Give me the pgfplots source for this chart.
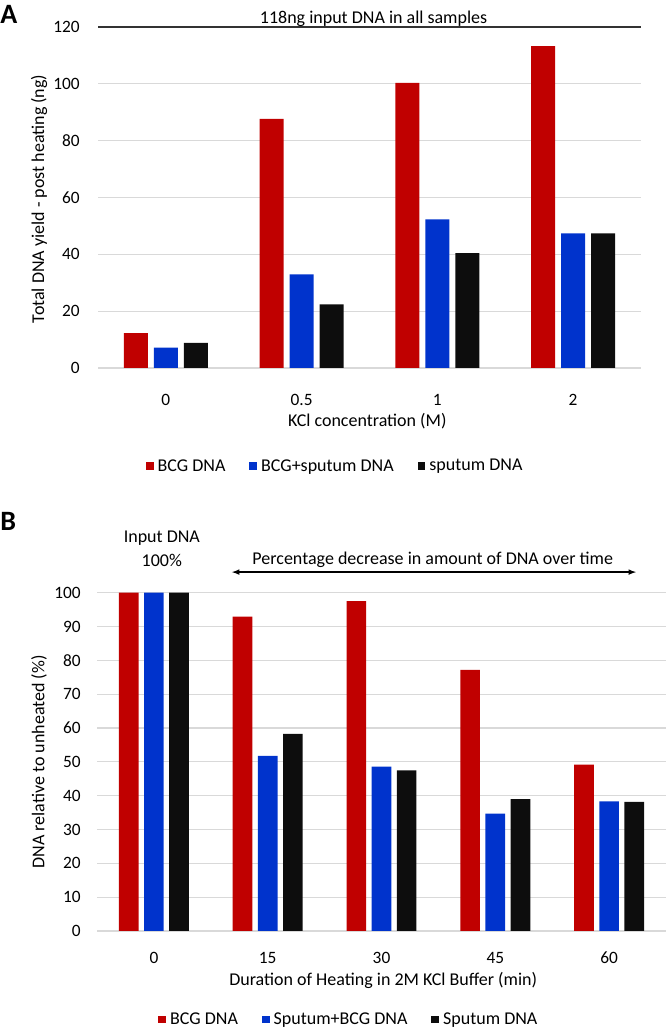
\documentclass[border=0pt]{standalone}
\usepackage{fontspec}
\setmainfont{Carlito}
\usepackage{pgfplots}
\pgfplotsset{compat=1.18}

\definecolor{bcgred}{HTML}{C00000}
\definecolor{mixblue}{HTML}{0033CC}
\definecolor{sputblack}{HTML}{0D0D0D}
\definecolor{gridgray}{HTML}{D9D9D9}

\pgfplotsset{
  panel/.style={
    scale only axis, ybar, clip=false,
    /pgf/number format/assume math mode=true,
    axis line style={draw=none}, tick style={draw=none},
    ymajorgrids, major grid style={draw=gridgray, line width=0.9pt},
    tick label style={font=\fontsize{13}{15}\selectfont},
    xticklabel style={anchor=center},
    yticklabel style={anchor=east, inner sep=0pt},
    xlabel style={anchor=center}, ylabel style={anchor=center},
    legend columns=-1,
    legend image code/.code={\fill[##1] (0pt,-2.9pt) rectangle (5.8pt,2.9pt);},
    legend style={draw=none, fill=none, anchor=center,
      nodes={inner sep=0pt},
      /tikz/every odd column/.append style={column sep=3pt},
      /tikz/every even column/.append style={column sep=18pt}},
  }
}

\begin{document}
\begin{tikzpicture}[font=\fontsize{13.5}{16}\selectfont]
\useasboundingbox (0,0) rectangle (499.5pt,775.5pt);

% panel labels
\node[anchor=north west, inner sep=0pt, font=\fontsize{21}{24}\selectfont\bfseries] at (0pt,771.75pt) {A};
\node[anchor=north west, inner sep=0pt, font=\fontsize{21}{24}\selectfont\bfseries] at (0pt,391.5pt) {B};

% ---- panel A ----
\begin{axis}[panel,
  at={(73.5pt,499.5pt)}, anchor=south west,
  width=407.25pt, height=255.75pt,
  bar width=0.177,
  xmin=-0.5, xmax=3.5, ymin=0, ymax=120,
  xtick={0,1,2,3}, xticklabels={0,0.5,1,2},
  ytick={0,20,...,120},
  xticklabel style={yshift=-19.5pt},
  yticklabel style={xshift=-13.5pt},
  xlabel={KCl concentration (M)},
  xlabel style={at={(axis description cs:0.496,-0.155)}},
  ylabel={Total DNA yield - post heating (ng)},
  ylabel style={at={(axis description cs:-0.1087,0.496)}},
  legend style={at={(0.435,-0.288)}},
]
\addplot[draw=none, fill=bcgred, bar shift=-0.221] coordinates {(0,12.3) (1,87.7) (2,100.3) (3,113.3)};
\addplot[draw=none, fill=mixblue, bar shift=0] coordinates {(0,7.2) (1,32.9) (2,52.3) (3,47.4)};
\addplot[draw=none, fill=sputblack, bar shift=0.221] coordinates {(0,8.8) (1,22.4) (2,40.4) (3,47.4)};
\legend{BCG DNA, BCG+sputum DNA, sputum DNA}
\draw[black!80, line width=0.9pt] (axis cs:-0.5,120) -- (axis cs:3.5,120);
\node[anchor=base, inner sep=0pt] at (axis cs:1.53,121.2) {118ng input DNA in all samples};
\end{axis}

% ---- panel B ----
\begin{axis}[panel,
  at={(72.75pt,77.25pt)}, anchor=south west,
  width=426.75pt, height=253.7pt,
  bar width=0.173,
  xmin=-0.5, xmax=4.5, ymin=0, ymax=100,
  xtick={0,1,2,3,4}, xticklabels={0,15,30,45,60},
  ytick={0,10,...,100},
  xticklabel style={yshift=-15.75pt},
  yticklabel style={xshift=-12pt},
  xlabel={Duration of Heating in 2M KCl Buffer (min)},
  xlabel style={at={(axis description cs:0.503,-0.145)}},
  ylabel={DNA relative to unheated (\%)},
  ylabel style={at={(axis description cs:-0.102,0.5)}},
  legend style={at={(0.441,-0.262)}},
]
\addplot[draw=none, fill=bcgred, bar shift=-0.221] coordinates {(0,100) (1,92.9) (2,97.5) (3,77.2) (4,49.2)};
\addplot[draw=none, fill=mixblue, bar shift=0] coordinates {(0,100) (1,51.8) (2,48.6) (3,34.7) (4,38.3)};
\addplot[draw=none, fill=sputblack, bar shift=0.221] coordinates {(0,100) (1,58.3) (2,47.5) (3,39.0) (4,38.2)};
\legend{BCG DNA, Sputum+BCG DNA, Sputum DNA}
\node[align=center, inner sep=0pt] at (axis cs:0.07,112.9) {Input DNA\\[2pt]100\%};
\draw[<->, >=latex, line width=0.9pt] (axis cs:0.686,106.1) -- (axis cs:4.236,106.1);
\node[anchor=base, inner sep=0pt] at (axis cs:2.45,108.3) {Percentage decrease in amount of DNA over time};
\end{axis}
\end{tikzpicture}
\end{document}
